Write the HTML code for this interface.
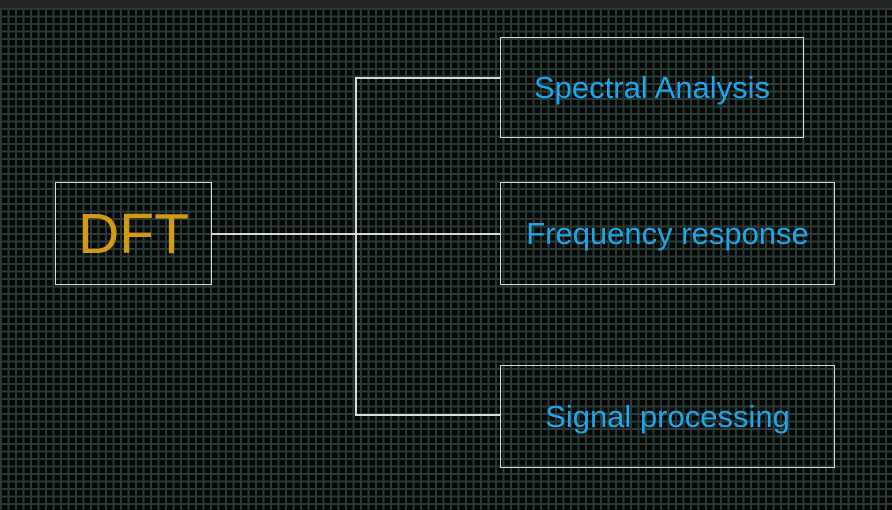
<!DOCTYPE html>
<html><head><style>
body{margin:0;width:892px;height:510px;overflow:hidden;background:#060a09;font-family:"Liberation Sans",sans-serif;}
#bg{position:absolute;left:0;top:8px;width:892px;height:502px;
background-color:#040706;
background-image:linear-gradient(to right,#2a3b36 2px,transparent 2px),linear-gradient(to bottom,#2a3b36 2px,transparent 2px);
background-size:7.5px 7.5px;}
#top{position:absolute;left:0;top:0;width:892px;height:8px;background:#222425;}
.b{position:absolute;border:1.5px solid #d8d8d8;box-sizing:border-box;display:flex;align-items:center;justify-content:center;color:#1ea6ea;font-size:31px;}
.l{position:absolute;background:#d8d8d8;}
</style></head><body>
<div id="bg"></div><div id="top"></div>
<div class="b" style="left:55px;top:182px;width:157px;height:103px;color:#d19a12;font-size:57px;">DFT</div>
<div class="b" style="left:500px;top:37px;width:304px;height:101px;">Spectral Analysis</div>
<div class="b" style="left:500px;top:182px;width:335px;height:103px;">Frequency response</div>
<div class="b" style="left:500px;top:365px;width:335px;height:103px;">Signal processing</div>
<div class="l" style="left:211px;top:233px;width:289px;height:1.5px;"></div>
<div class="l" style="left:355px;top:77px;width:1.5px;height:339px;"></div>
<div class="l" style="left:355px;top:77px;width:145px;height:1.5px;"></div>
<div class="l" style="left:355px;top:414px;width:145px;height:1.5px;"></div>
</body></html>
